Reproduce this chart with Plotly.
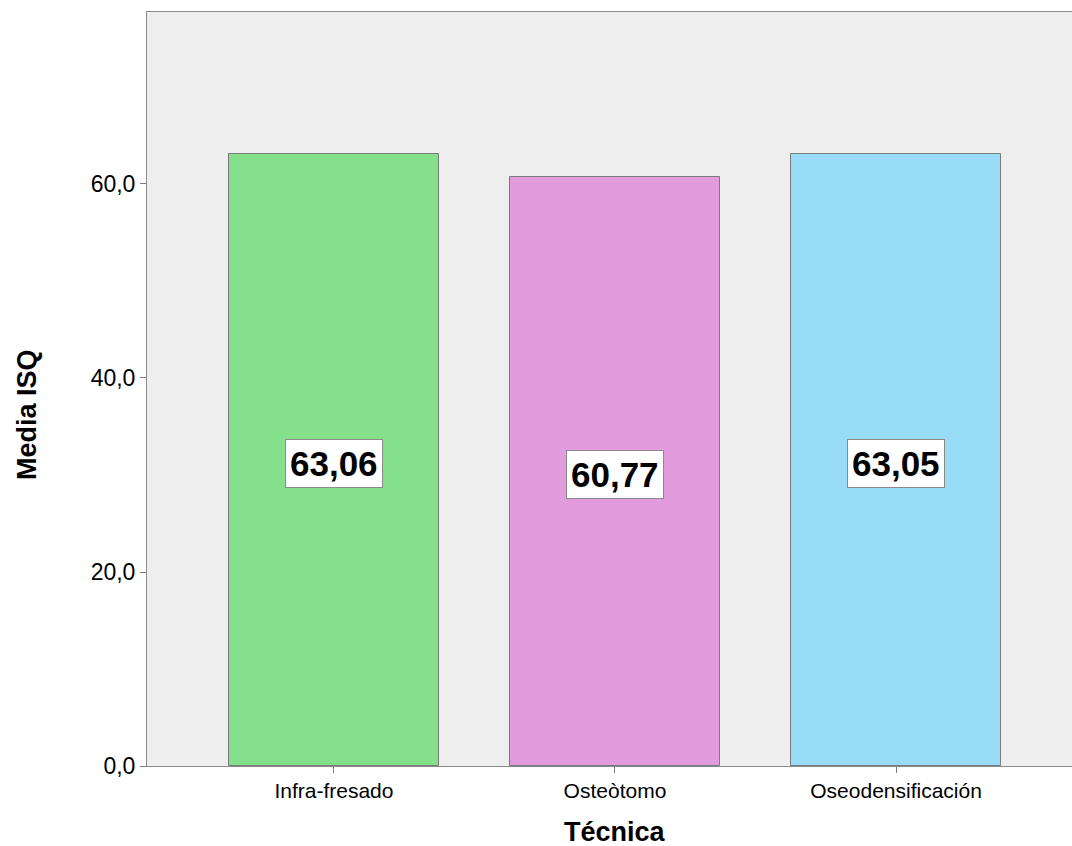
import plotly.graph_objects as go

# Mean ISQ per technique
tecnicas = ["Infra-fresado", "Osteòtomo", "Oseodensificación"]
media_isq = [63.06, 60.77, 63.05]
etiquetas = ["63,06", "60,77", "63,05"]
colores = ["#84E08A", "#E29BDC", "#98DBF6"]

y_ticks = [0, 20, 40, 60]
y_tick_text = ["0,0", "20,0", "40,0", "60,0"]

FONT = "Liberation Sans, Arial, sans-serif"

fig = go.Figure()
fig.add_trace(go.Bar(
    x=list(range(len(tecnicas))),
    y=media_isq,
    width=0.747,
    marker=dict(color=colores, line=dict(color="#7a7a7a", width=1)),
    hoverinfo="skip",
))

# Value boxes centred in each bar
for i, (v, lab) in enumerate(zip(media_isq, etiquetas)):
    fig.add_annotation(
        x=i, y=v / 2, text=f"<b>{lab}</b>", showarrow=False,
        font=dict(family=FONT, size=35, color="#000000"),
        bgcolor="#FFFFFF", bordercolor="#8a8a8a", borderwidth=1, borderpad=4,
        yshift=-3,
    )

# Axis titles
fig.add_annotation(
    xref="paper", yref="paper", x=-0.1297, y=0.4655,
    text="<b>Media ISQ</b>", textangle=-90, showarrow=False,
    xanchor="center", yanchor="middle",
    font=dict(family=FONT, size=27, color="#000000"),
)
fig.add_annotation(
    xref="paper", yref="paper", x=(614.5 - 147) / 925, y=-0.0875,
    text="<b>Técnica</b>", showarrow=False,
    xanchor="center", yanchor="middle",
    font=dict(family=FONT, size=27, color="#000000"),
)

fig.update_layout(
    width=1072, height=846,
    margin=dict(l=147, r=0, t=12, b=80),
    paper_bgcolor="#FFFFFF",
    plot_bgcolor="#EFEEEF",
    showlegend=False,
    bargap=0,
    font=dict(family=FONT, color="#000000"),
    xaxis=dict(
        range=[-0.665, 2.626],
        tickmode="array",
        tickvals=list(range(len(tecnicas))),
        ticktext=tecnicas,
        tickfont=dict(size=21, family=FONT),
        ticks="outside", ticklen=6, tickcolor="#7a7a7a",
        showline=True, linecolor="#8a8a8a", linewidth=1, mirror=True,
        showgrid=False, zeroline=False,
    ),
    yaxis=dict(
        range=[0, 77.73],
        tickmode="array",
        tickvals=y_ticks,
        ticktext=y_tick_text,
        tickfont=dict(size=23, family=FONT),
        ticks="outside", ticklen=6, tickcolor="#7a7a7a",
        showline=True, linecolor="#8a8a8a", linewidth=1,
        showgrid=False, zeroline=False,
    ),
)

fig.write_html("out.html")
